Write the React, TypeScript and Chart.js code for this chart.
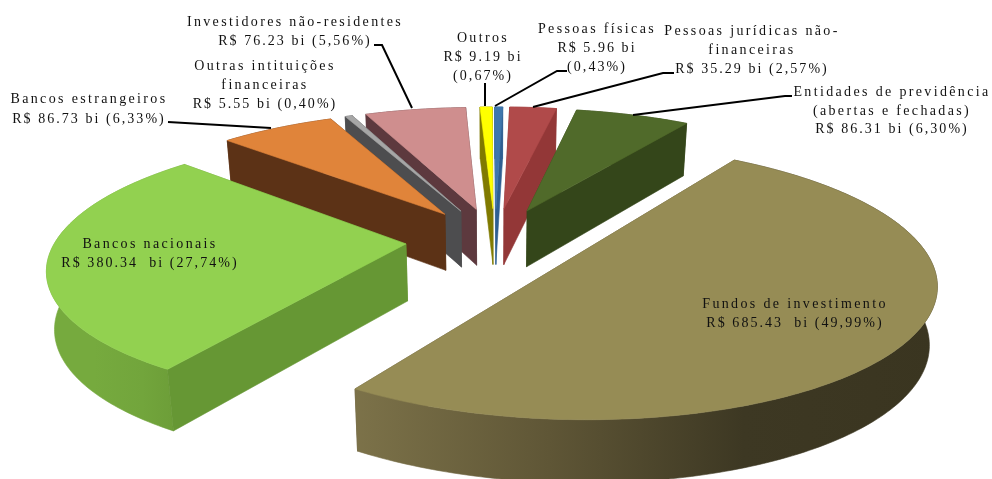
import React, { useEffect, useRef } from "react";
import { Chart, registerables } from "chart.js";

Chart.register(...registerables);

// Holders of the public debt, in R$ billions, clockwise from the largest slice.
const CATEGORIES = [
  "Fundos de investimento",
  "Bancos nacionais",
  "Bancos estrangeiros",
  "Outras intituições financeiras",
  "Investidores não-residentes",
  "Outros",
  "Pessoas físicas",
  "Pessoas jurídicas não-financeiras",
  "Entidades de previdência (abertas e fechadas)",
];
const VALUES = [685.43, 380.34, 86.73, 5.55, 76.23, 9.19, 5.96, 35.29, 86.31];
const SHARES = ["49,99", "27,74", "6,33", "0,40", "5,56", "0,67", "0,43", "2,57", "6,30"];

const FACE_COLORS = ["#968c55", "#92d150", "#e0843a", "#a6a6a6", "#cf8e8e", "#ffff00", "#3f77ad", "#b04a4a", "#506a2a"];
const RADIAL_WALL_COLORS = ["#5f5636", "#669734", "#5c3216", "#4d4d4f", "#5d393e", "#807a00", "#2f5f92", "#933737", "#34461a"];
const RIM_WALL_STOPS = [
  ["#7c7249", "#5f5636", "#3d3823", "#3a3520"],
  ["#76aa3e", "#76aa3e", "#72a53c", "#6a9a36"],
  ["#5c3216", "#5c3216"],
  ["#4d4d4f", "#4d4d4f"],
  ["#5d393e", "#5d393e"],
  ["#807a00", "#807a00"],
  ["#2f5f92", "#2f5f92"],
  ["#933737", "#933737"],
  ["#34461a", "#34461a"],
];

const NAME_LINES = [
  ["Fundos de investimento"],
  ["Bancos nacionais"],
  ["Bancos estrangeiros"],
  ["Outras intituições", "financeiras"],
  ["Investidores não-residentes"],
  ["Outros"],
  ["Pessoas físicas"],
  ["Pessoas jurídicas não-", "financeiras"],
  ["Entidades de previdência", "(abertas e fechadas)"],
];
// Labels whose amount and share sit on separate lines.
const SPLIT_VALUE_LINE = [false, false, false, false, false, true, true, false, false];
const WIDE_GAP = [true, true, false, false, false, false, false, false, false];

// Centre x and first baseline of each label block, with its row height.
const LABEL_CENTER_X = [795, 150, 89, 265, 295, 483, 597, 752, 892];
const LABEL_FIRST_BASELINE = [308, 248, 103, 70, 26, 42, 33, 35, 96];
const LABEL_ROW_HEIGHT = [19, 19, 20, 19, 19, 19, 19, 19, 18.5];
const NAME_SPACING = 2.35;
const VALUE_SPACING = 2.05;

// Leader lines from a label to the rim of its slice.
const LEADERS: (number[][] | null)[] = [
  null,
  null,
  [[168, 122], [271, 128]],
  null,
  [[374, 45], [382, 45], [412, 108]],
  [[485, 83], [485, 106]],
  [[567, 71], [557, 71], [495, 106]],
  [[674, 73], [663, 73], [533, 107]],
  [[792, 96], [785, 96], [633, 115]],
];

const WIDTH = 992;
const HEIGHT = 479;

// Camera model of the tilted pie: unit disc, y pointing at the viewer, z downward.
const CAMERA = { cx: 495, cy: 240, a: 350, b: 128, k: 0.165, depth: 57, taper: 0.018 };
const EXPLOSION = 0.255;

type Vec = [number, number];

function project(x: number, y: number, z: number): Vec {
  const s = 1 / (1 - CAMERA.k * y);
  return [
    CAMERA.cx + CAMERA.a * x * s * (1 - CAMERA.taper * z),
    CAMERA.cy + CAMERA.b * y * s + z * CAMERA.depth * Math.sqrt(s),
  ];
}

function fillPolygon(ctx: CanvasRenderingContext2D, pts: Vec[], fill: string | CanvasGradient) {
  ctx.beginPath();
  pts.forEach(([x, y], i) => (i ? ctx.lineTo(x, y) : ctx.moveTo(x, y)));
  ctx.closePath();
  ctx.fillStyle = fill;
  ctx.strokeStyle = fill;
  ctx.lineWidth = 0.6;
  ctx.fill();
  ctx.stroke();
}

function drawSlice(ctx: CanvasRenderingContext2D, index: number, start: number, end: number) {
  const mid = (start + end) / 2;
  const ox = EXPLOSION * Math.cos(mid);
  const oy = EXPLOSION * Math.sin(mid);
  const steps = Math.max(2, Math.ceil((end - start) / 0.0175));

  const rim: Vec[] = [];
  for (let i = 0; i <= steps; i++) {
    const t = start + ((end - start) * i) / steps;
    rim.push([ox + Math.cos(t), oy + Math.sin(t)]);
  }
  const first = rim[0];
  const last = rim[rim.length - 1];

  const wallQuad = (a: Vec, b: Vec): Vec[] => [
    project(a[0], a[1], 0),
    project(b[0], b[1], 0),
    project(b[0], b[1], 1),
    project(a[0], a[1], 1),
  ];

  const topRim = rim.map(([x, y]) => project(x, y, 0));
  const bottomRim = rim.map(([x, y]) => project(x, y, 1));
  const rimPoly = [...topRim, ...bottomRim.slice().reverse()];
  const xs = rimPoly.map((p) => p[0]);
  const gradient = ctx.createLinearGradient(Math.min(...xs), 0, Math.max(...xs), 0);
  const stops = RIM_WALL_STOPS[index];
  stops.forEach((c, i) => gradient.addColorStop(i / (stops.length - 1), c));

  // A radial wall faces the viewer when its outward normal points toward +y.
  const startFacesViewer = Math.sin(start - Math.PI / 2) > 0;
  const endFacesViewer = Math.sin(end + Math.PI / 2) > 0;
  const startWall = wallQuad([ox, oy], first);
  const endWall = wallQuad([ox, oy], last);
  const radialColor = RADIAL_WALL_COLORS[index];

  if (!startFacesViewer) fillPolygon(ctx, startWall, radialColor);
  if (!endFacesViewer) fillPolygon(ctx, endWall, radialColor);
  fillPolygon(ctx, rimPoly, gradient);
  if (startFacesViewer) fillPolygon(ctx, startWall, radialColor);
  if (endFacesViewer) fillPolygon(ctx, endWall, radialColor);

  fillPolygon(ctx, [project(ox, oy, 0), ...topRim], FACE_COLORS[index]);
}

function drawLabels(ctx: CanvasRenderingContext2D) {
  ctx.save();
  ctx.fillStyle = "#111";
  ctx.strokeStyle = "#000";
  ctx.lineWidth = 2;
  LEADERS.forEach((line) => {
    if (!line) return;
    ctx.beginPath();
    line.forEach(([x, y], i) => (i ? ctx.lineTo(x, y) : ctx.moveTo(x, y)));
    ctx.stroke();
  });

  ctx.font = '14px "Liberation Serif"';
  ctx.textAlign = "center";
  ctx.textBaseline = "alphabetic";
  CATEGORIES.forEach((_, i) => {
    const gap = WIDE_GAP[i] ? "  " : " ";
    const amount = `R$ ${VALUES[i]}${gap}bi`;
    const share = `(${SHARES[i]}%)`;
    const valueLines = SPLIT_VALUE_LINE[i] ? [amount, share] : [`${amount} ${share}`];
    const rows = [
      ...NAME_LINES[i].map((text) => ({ text, spacing: NAME_SPACING })),
      ...valueLines.map((text) => ({ text, spacing: VALUE_SPACING })),
    ];
    rows.forEach(({ text, spacing }, row) => {
      (ctx as any).letterSpacing = `${spacing}px`;
      ctx.fillText(text, LABEL_CENTER_X[i], LABEL_FIRST_BASELINE[i] + row * LABEL_ROW_HEIGHT[i]);
    });
  });
  ctx.restore();
}

// Replaces the flat arcs with extruded slices, keeping the angles the pie controller computed.
const perspectivePie = {
  id: "perspectivePie",
  beforeDatasetsDraw(chart: Chart) {
    const ctx = chart.ctx;
    const arcs = chart.getDatasetMeta(0).data as any[];
    const order = arcs
      .map((arc, i) => ({ i, start: arc.startAngle as number, end: arc.endAngle as number }))
      .sort((p, q) => Math.sin((p.start + p.end) / 2) - Math.sin((q.start + q.end) / 2));
    ctx.save();
    order.forEach(({ i, start, end }) => drawSlice(ctx, i, start, end));
    ctx.restore();
    drawLabels(ctx);
    return false;
  },
};

export default function App() {
  const canvasRef = useRef<HTMLCanvasElement>(null);

  useEffect(() => {
    const chart = new Chart(canvasRef.current!, {
      type: "pie",
      data: {
        labels: CATEGORIES,
        datasets: [{ data: VALUES, backgroundColor: FACE_COLORS, borderWidth: 0 }],
      },
      options: {
        responsive: false,
        animation: false,
        devicePixelRatio: 1,
        rotation: 33.3,
        plugins: { legend: { display: false }, tooltip: { enabled: false } },
      },
      plugins: [perspectivePie],
    } as any);
    return () => chart.destroy();
  }, []);

  return (
    <div style={{ position: "fixed", left: 0, top: 0, width: WIDTH, height: HEIGHT, background: "#fff" }}>
      <canvas ref={canvasRef} width={WIDTH} height={HEIGHT} style={{ display: "block" }} />
    </div>
  );
}
